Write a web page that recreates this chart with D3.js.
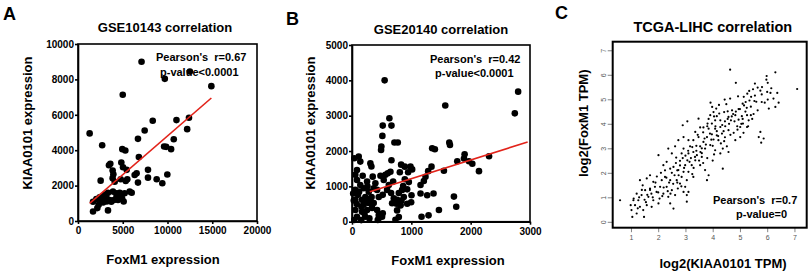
<!DOCTYPE html>
<html>
<head>
<meta charset="utf-8">
<script src="https://cdn.jsdelivr.net/npm/d3@7"></script>
<style>
  body { margin: 0; background: #fff; }
  text { font-family: "Liberation Sans", Arial, sans-serif; }
</style>
</head>
<body>
<script>
// panel A: GSE10143, [FoxM1, KIAA0101]
var gse10143Points = [
  [1300,4950],[2700,4280],[4950,4060],[5290,3980],[6700,4640],[7450,5110],[8350,5660],[9620,4210],
  [9850,4190],[10400,4060],[10700,4620],[11000,5700],[12200,5190],[12400,5830],[7100,9000],[9700,8030],
  [12500,8450],[14900,7620],[5000,7130],[6800,3620],[3610,3230],[3460,3150],[4840,3300],[5030,3040],
  [5440,2890],[3870,2850],[3950,2640],[6550,2700],[6330,2600],[7820,2890],[7820,2450],[6700,2170],
  [8790,2360],[9420,2130],[9980,2630],[3870,2420],[4770,2360],[5330,2260],[5510,2360],[2530,2280],
  [4100,2220],[1680,1090],[2050,1240],[2420,1340],[2680,1380],[2900,1240],[3170,1340],[3540,1190],
  [3350,1600],[3910,1660],[4280,1570],[4660,1600],[5210,1570],[5770,1660],[6000,1600],[3720,1090],
  [4020,1190],[4470,1190],[4920,1280],[2310,920],[2160,730],[1680,540],[3350,600],[2600,1150],
  [3000,1500],[4600,1400],[5100,1100],[2800,1050],[3200,1100],[4300,1350]
];
var gse10143Fit = [[1300,990],[14900,6950]];
var aXTicks = [0,5000,10000,15000,20000];
var aYTicks = [0,2000,4000,6000,8000,10000];

// panel B: GSE20140
var gse20140Points = [
  [550,4000],[1572,3290],[2800,3680],[2744,3066],[630,2929],[518,2720],[665,2720],[512,2428],
  [495,2125],[490,2030],[715,2240],[772,2240],[665,1740],[890,1558],[828,1615],[806,1400],
  [946,1400],[986,1558],[1014,1480],[890,1200],[958,1120],[862,1010],[930,915],[1003,750],
  [873,700],[834,600],[750,510],[817,460],[930,510],[760,320],[789,130],[732,55],
  [997,550],[1351,2080],[1397,2050],[1640,2240],[1651,2170],[1340,1558],[1284,1430],[1239,1270],
  [1211,1150],[1155,1040],[1155,800],[1267,750],[1374,800],[1172,140],[1290,180],[1465,330],
  [1718,710],[1757,425],[1549,1440],[1774,1710],[1898,1910],[1887,1790],[1971,1710],[2028,1640],
  [2140,1430],[2310,1850],[39,1796],[140,1700],[84,1465],[56,1325],[84,1180],[140,1040],
  [56,900],[101,760],[56,620],[56,330],[84,140],[156,45],[222,140],[310,1650],
  [327,1560],[349,1275],[254,1135],[197,945],[282,850],[366,945],[225,700],[310,650],
  [169,620],[197,480],[282,530],[366,530],[338,390],[423,330],[254,330],[158,430],
  [169,285],[451,190],[451,95],[507,140],[423,900],[451,700],[518,760],[592,900],
  [620,1040],[535,1180],[603,1370],[648,1415],[563,1325],[693,1135],[659,810],[704,665],
  [676,520],[761,620],[789,810],[845,900],[817,480],[394,1085],[113,1840],[39,47],
  [293,94],[208,236],[434,47],[518,236],[20,800],[30,600],[80,500],[120,850],
  [200,560],[250,600],[300,550],[330,700],[180,1300],[260,1000],[480,1300]
];
var gse20140Fit = [[300,845],[2960,2255]];
var bXTicks = [0,1000,2000,3000];
var bYTicks = [0,1000,2000,3000,4000,5000];

// panel C: TCGA-LIHC, [log2 KIAA0101, log2 FoxM1]
var tcgaPoints = [
  [5.98,5.95],[6.30,6.10],[5.97,5.80],[6.02,5.67],[5.81,5.50],[5.55,5.64],[5.65,5.48],[6.12,5.26],
  [6.37,5.26],[6.23,5.03],[6.42,4.86],[6.02,4.99],[5.91,4.86],[6.30,4.69],[6.06,4.62],[5.48,5.41],
  [5.34,5.34],[5.27,5.23],[4.93,5.12],[5.14,5.10],[5.41,5.10],[5.53,4.93],[5.80,4.89],[5.21,4.89],
  [5.10,4.82],[4.64,5.03],[4.44,4.99],[4.23,4.77],[4.85,5.67],[4.64,6.21],[7.10,5.42],[5.75,3.67],
  [5.78,3.23],[5.87,3.40],[5.69,3.46],[3.92,4.86],[3.98,4.69],[4.13,4.62],[4.03,4.48],[3.91,4.35],
  [4.15,4.31],[4.24,4.42],[4.42,4.48],[4.55,4.51],[4.71,4.55],[4.58,4.28],[4.83,4.35],[4.95,4.17],
  [4.67,4.14],[5.07,4.31],[5.26,4.35],[5.40,4.35],[5.32,4.14],[5.11,4.01],[5.01,3.87],[5.26,3.87],
  [4.91,3.76],[5.13,3.63],[5.01,3.46],[4.77,3.63],[4.83,3.33],[4.28,4.14],[4.09,4.14],[3.97,4.01],
  [3.81,4.01],[3.66,3.85],[3.85,3.80],[4.09,3.80],[4.28,3.87],[4.46,3.90],[4.58,3.74],[4.34,3.60],
  [4.15,3.53],[3.97,3.57],[3.79,3.46],[4.03,3.36],[4.21,3.33],[4.42,3.29],[4.52,3.08],[4.37,2.99],
  [4.58,2.85],[4.28,2.79],[4.09,2.92],[3.91,3.13],[3.66,3.26],[3.54,3.08],[3.72,2.99],[4.37,2.17],
  [3.29,3.33],[3.48,3.46],[3.36,3.67],[3.54,3.85],[3.48,4.21],[3.07,4.10],[2.90,3.94],[2.93,3.46],
  [3.11,3.33],[3.17,3.08],[2.93,2.99],[2.74,3.33],[2.62,3.08],[2.86,2.79],[3.11,2.79],[3.29,2.85],
  [3.42,2.72],[3.60,2.65],[3.36,2.51],[3.54,2.31],[3.72,2.11],[3.85,1.90],[3.79,1.70],[3.23,2.31],
  [3.07,2.51],[2.99,2.31],[2.80,2.49],[2.66,2.62],[2.50,2.79],[2.37,2.99],[2.56,2.24],[2.74,2.11],
  [2.93,2.04],[3.11,2.04],[3.29,1.83],[3.05,1.70],[2.86,1.83],[2.68,1.70],[2.80,1.56],[2.99,1.43],
  [3.11,1.22],[3.05,1.09],[2.93,1.22],[2.72,1.36],[2.44,2.17],[2.31,2.45],[2.19,2.31],[2.01,2.72],
  [2.25,1.83],[2.44,1.70],[2.13,1.70],[2.07,1.43],[2.31,1.43],[2.50,1.29],[2.62,1.09],[2.37,1.02],
  [2.19,1.15],[1.94,1.22],[1.70,1.90],[1.58,1.77],[1.82,1.63],[1.88,1.43],[1.70,1.36],[1.52,1.29],
  [1.33,1.70],[1.43,1.49],[1.21,1.15],[1.39,1.09],[1.64,1.02],[1.82,0.88],[2.01,0.75],[1.76,0.61],
  [1.58,0.68],[1.33,0.61],[1.15,0.68],[1.02,0.48],[0.99,0.68],[1.09,0.88],[1.27,0.88],[1.45,0.48],
  [1.21,0.34],[1.05,0.20],[1.48,0.20],[0.60,0.88],[2.56,0.54],[3.05,0.82],[2.44,0.75],[3.20,2.60],
  [3.40,2.90],[3.60,3.00],[3.00,2.70],[2.80,2.30],[2.60,1.90],[2.40,1.60],[2.20,1.40],[2.00,1.20],
  [1.80,1.00],[1.60,1.10],[1.90,1.60],[2.10,2.00],[2.70,2.10],[3.30,2.20],[3.50,2.50],[3.80,2.60],
  [4.00,3.10],[4.20,3.50],[4.40,3.70],[4.60,4.00],[4.80,4.10],[5.00,4.60],[5.20,4.50],[5.40,4.70],
  [5.60,4.90],[5.80,5.20],[6.00,5.30],[4.50,4.80],[4.70,4.30],[3.90,3.60],[3.70,3.40],[3.40,3.10],
  [3.10,2.90],[2.90,2.60],[2.50,2.00],[2.30,1.80],[1.70,1.30],[1.50,0.90],[1.30,1.00],[4.10,3.90],
  [4.30,3.20],[3.60,2.80],[2.70,1.60],[5.10,4.20],[5.50,4.40],[5.30,3.90],[4.90,3.90],[4.00,2.50],
  [3.80,3.90],[2.15,1.05],[2.35,1.25],[2.55,1.55],[2.75,1.90],[2.95,2.20],[3.15,2.45],[3.35,2.65],
  [3.55,2.85],[3.75,3.15],[3.95,3.35],[4.15,3.70],[4.35,3.95],[4.55,4.20],[4.75,4.40],[4.95,4.60],
  [5.15,4.75],[5.35,4.95],[5.55,5.15],[5.75,5.35],[1.95,1.85],[2.25,2.10],[2.65,2.40],[3.25,3.05],
  [3.45,3.55],[3.65,3.65],[3.85,4.20],[4.05,4.30],[4.45,4.10],[4.85,4.50],[5.05,4.00],[5.25,4.65],
  [2.05,0.95],[2.45,1.15],[2.85,1.45],[3.25,1.95],[3.65,2.40],[4.05,2.75],[4.45,3.45],[4.65,3.55],
  [5.45,4.20],[5.65,4.55],[1.25,0.55],[1.55,0.80],[1.75,1.15],[1.40,1.30],[1.10,0.95],[6.15,5.45]
];
var cXTicks = [1,2,3,4,5,6,7];
var cYTicks = [0,1,2,3,4,5,6,7];

var svg = d3.select("body").append("svg")
    .attr("width", 811)
    .attr("height", 271);

var plain = d3.format("d");

function boldText(x, y, str, size, anchor, rotate) {
  var t = svg.append("text")
      .attr("font-size", size)
      .attr("font-weight", "bold")
      .attr("fill", "#000")
      .attr("text-anchor", anchor || "start")
      .style("white-space", "pre")
      .text(str);
  if (rotate) {
    t.attr("transform", "translate(" + x + "," + y + ") rotate(-90)");
  } else {
    t.attr("x", x).attr("y", y);
  }
  return t;
}

// GraphPad style panels (A and B)
function prismPanel(p) {
  var x = d3.scaleLinear().domain(p.xDomain).range(p.xRange);
  var y = d3.scaleLinear().domain(p.yDomain).range(p.yRange);

  svg.append("rect")
      .attr("x", p.xRange[0]).attr("y", p.yRange[1])
      .attr("width", p.xRange[1] - p.xRange[0])
      .attr("height", p.yRange[0] - p.yRange[1])
      .attr("fill", "none").attr("stroke", "#000").attr("stroke-width", 1.6);

  var gx = svg.append("g")
      .attr("transform", "translate(0," + p.yRange[0] + ")")
      .call(d3.axisBottom(x).tickValues(p.xTicks).tickFormat(plain)
        .tickSize(3).tickPadding(3).tickSizeOuter(0));
  var gy = svg.append("g")
      .attr("transform", "translate(" + p.xRange[0] + ",0)")
      .call(d3.axisLeft(y).tickValues(p.yTicks).tickFormat(plain)
        .tickSize(3).tickPadding(1).tickSizeOuter(0));
  [gx, gy].forEach(function(g) {
    g.select(".domain").attr("stroke-width", 1.6);
    g.selectAll(".tick line").attr("stroke-width", 1.6);
    g.selectAll("text")
        .attr("font-size", 10).attr("font-weight", "bold")
        .attr("font-family", "Liberation Sans, Arial, sans-serif");
  });

  // stats text sits under the dots
  boldText(p.statX[0], p.statY[0], p.stat1, 11);
  boldText(p.statX[1], p.statY[1], p.stat2, 11);

  svg.append("g").selectAll("circle")
      .data(p.points)
      .enter()
      .append("circle")
      .attr("cx", function(d) { return x(d[0]); })
      .attr("cy", function(d) { return y(d[1]); })
      .attr("r", 3.3)
      .attr("fill", "#000");

  svg.append("line")
      .attr("x1", x(p.fit[0][0])).attr("y1", y(p.fit[0][1]))
      .attr("x2", x(p.fit[1][0])).attr("y2", y(p.fit[1][1]))
      .attr("stroke", "#e2231a").attr("stroke-width", 1.6);
}

prismPanel({
  points: gse10143Points, fit: gse10143Fit,
  xDomain: [0, 20000], xRange: [78, 257],
  yDomain: [0, 10000], yRange: [221, 44],
  xTicks: aXTicks, yTicks: aYTicks,
  stat1: "Pearson's  r=0.67", stat2: "p-value<0.0001",
  statX: [156, 160], statY: [61, 76]
});
boldText(3, 20, "A", 18);
boldText(165, 31.5, "GSE10143 correlation", 13, "middle");
boldText(32, 123, "KIAA0101 expression", 13, "middle", true);
boldText(163, 263.5, "FoxM1 expression", 13, "middle");

prismPanel({
  points: gse20140Points, fit: gse20140Fit,
  xDomain: [0, 3000], xRange: [352, 530],
  yDomain: [0, 5000], yRange: [221.7, 45],
  xTicks: bXTicks, yTicks: bYTicks,
  stat1: "Pearson's  r=0.42", stat2: "p-value<0.0001",
  statX: [430, 435], statY: [63, 77]
});
boldText(286, 25, "B", 18);
boldText(441, 34, "GSE20140 correlation", 13, "middle");
boldText(314.5, 123, "KIAA0101 expression", 13, "middle", true);
boldText(448, 265, "FoxM1 expression", 13, "middle");

// panel C: R base-graphics style
var xC = d3.scaleLinear().domain([0.33, 7.45]).range([612.7, 806.7]);
var yC = d3.scaleLinear().domain([-0.24, 7.35]).range([227.7, 41.7]);

var gxC = svg.append("g")
    .attr("transform", "translate(0,227.7)")
    .call(d3.axisBottom(xC).tickValues(cXTicks).tickSize(4.5).tickPadding(3).tickSizeOuter(0));
var gyC = svg.append("g")
    .attr("transform", "translate(612.7,0)")
    .call(d3.axisLeft(yC).tickValues(cYTicks).tickSize(5).tickPadding(3).tickSizeOuter(0));
[gxC, gyC].forEach(function(g) {
  g.select(".domain").remove();
  g.selectAll(".tick line").attr("stroke", "#666").attr("stroke-width", 0.8);
  g.selectAll("text").attr("font-size", 7).attr("fill", "#555")
      .attr("font-family", "Liberation Sans, Arial, sans-serif");
});
gyC.selectAll("text")
    .attr("x", 0).attr("y", -6.5).attr("dy", 0)
    .attr("text-anchor", "middle")
    .attr("transform", "rotate(-90)");

svg.append("rect")
    .attr("x", 612.7).attr("y", 41.7)
    .attr("width", 194).attr("height", 186)
    .attr("fill", "none").attr("stroke", "#000").attr("stroke-width", 2);

svg.append("g").selectAll("circle")
    .data(tcgaPoints)
    .enter()
    .append("circle")
    .attr("cx", function(d) { return xC(d[0]); })
    .attr("cy", function(d) { return yC(d[1]); })
    .attr("r", 1.1)
    .attr("fill", "#000");

boldText(713, 204, "Pearson's  r=0.7", 11);
boldText(736, 217.5, "p-value=0", 11);
boldText(555, 18.5, "C", 18);
boldText(712.8, 32, "TCGA-LIHC correlation", 14.5, "middle");
boldText(588, 123.3, "log2(FoxM1 TPM)", 13, "middle", true);
boldText(723, 267.5, "log2(KIAA0101 TPM)", 13, "middle");
</script>
</body>
</html>
